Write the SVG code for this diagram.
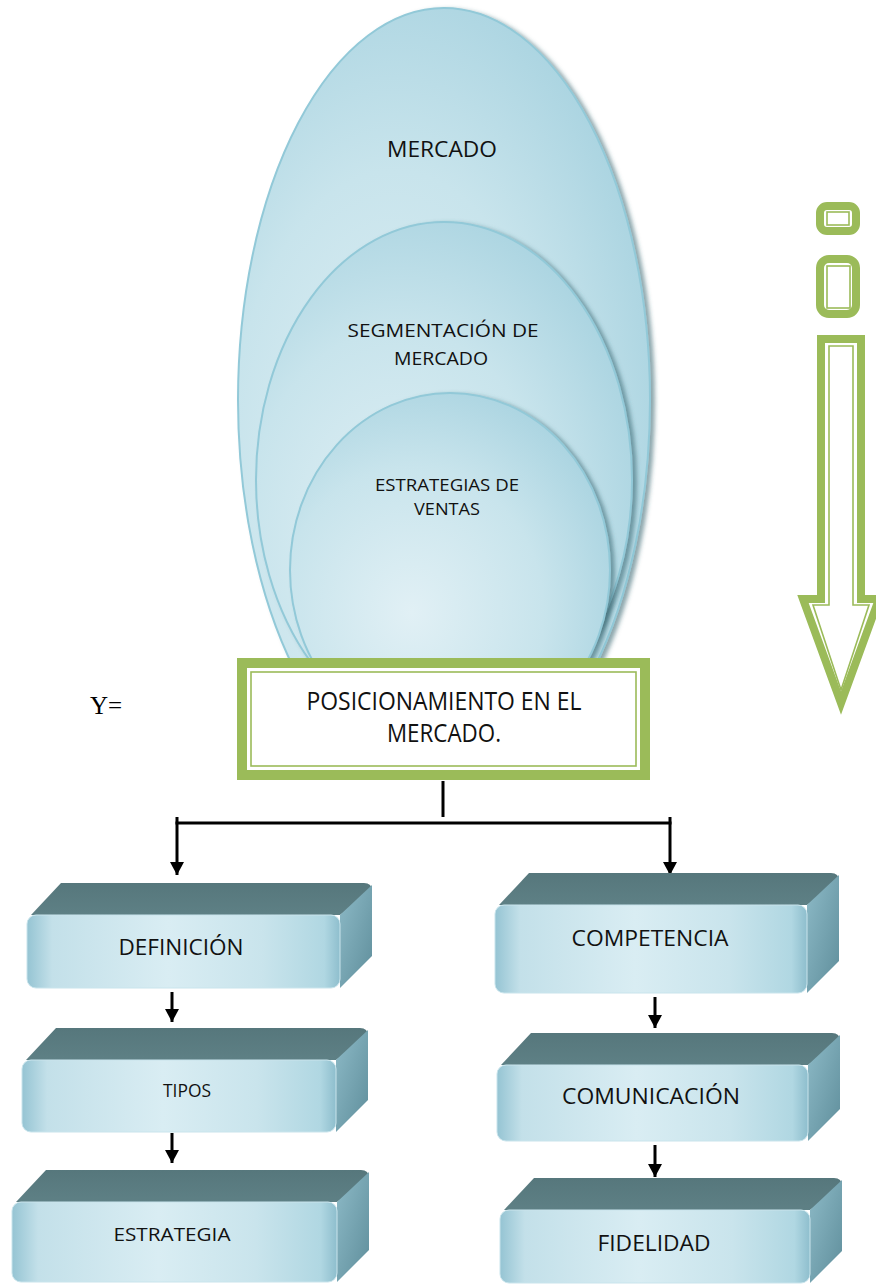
<svg xmlns="http://www.w3.org/2000/svg" width="876" height="1288" viewBox="0 0 876 1288">
  <style>
    .lbl { font-family: "Open Sans", "Noto Sans", "DejaVu Sans", sans-serif; fill: #111; text-anchor: middle; }
    .egg { stroke: #92C9D8; stroke-width: 2; fill: url(#eggGrad); filter: url(#eggShadow); }
    .g-thick { fill: none; stroke: #9BBB59; }
    .g-thin { fill: none; stroke: #9BBB59; stroke-width: 1.6; }
    .topface { fill: url(#topGrad); }
    .sideface { fill: url(#sideGrad); }
    .frontface { fill: url(#frontGrad); stroke: #C9E4EC; stroke-width: 1; }
    .wire { stroke: #000; stroke-width: 3; fill: none; }
    .wire-arrow { stroke: #000; stroke-width: 3; fill: none; marker-end: url(#ah); }
  </style>
  <defs>
    <radialGradient id="eggGrad" cx="0.38" cy="0.62" r="0.75">
      <stop offset="0" stop-color="#E1F0F5"/>
      <stop offset="0.55" stop-color="#C8E4EC"/>
      <stop offset="1" stop-color="#A3D0DE"/>
    </radialGradient>
    <filter id="eggShadow" x="-10%" y="-10%" width="125%" height="125%">
      <feDropShadow dx="4" dy="2" stdDeviation="2" flood-color="#2E5E6B" flood-opacity="0.55"/>
    </filter>
    <clipPath id="eggClip">
      <rect x="0" y="0" width="876" height="664"/>
    </clipPath>
    <linearGradient id="frontGrad" x1="0" y1="0" x2="1" y2="0">
      <stop offset="0" stop-color="#95C4D3"/>
      <stop offset="0.08" stop-color="#C3E0E9"/>
      <stop offset="0.45" stop-color="#D9EDF3"/>
      <stop offset="0.75" stop-color="#C9E4EC"/>
      <stop offset="0.95" stop-color="#B0D7E2"/>
      <stop offset="1" stop-color="#8EBECD"/>
    </linearGradient>
    <linearGradient id="topGrad" x1="0" y1="0" x2="0" y2="1">
      <stop offset="0" stop-color="#56777C"/>
      <stop offset="1" stop-color="#5E8085"/>
    </linearGradient>
    <linearGradient id="sideGrad" x1="0" y1="0" x2="1" y2="1">
      <stop offset="0" stop-color="#8DBAC7"/>
      <stop offset="1" stop-color="#5F8E9B"/>
    </linearGradient>
    <marker id="ah" markerUnits="userSpaceOnUse" markerWidth="13" markerHeight="14" refX="13" refY="7" orient="auto">
      <path d="M0,0 L13,7 L0,14 Z" fill="#000"/>
    </marker>
  </defs>

  <!-- nested market ellipses -->
  <g id="ellipses" clip-path="url(#eggClip)">
    <g id="mercado">
      <ellipse class="egg" cx="444" cy="400" rx="206" ry="392"/>
      <text class="lbl" x="442" y="157" font-size="22" textLength="110" lengthAdjust="spacingAndGlyphs">MERCADO</text>
    </g>
    <g id="segmentacion">
      <ellipse class="egg" cx="444" cy="480" rx="188" ry="258"/>
      <text class="lbl" x="443" y="337" font-size="19" textLength="191" lengthAdjust="spacingAndGlyphs">SEGMENTACIÓN DE</text>
      <text class="lbl" x="441" y="365" font-size="19" textLength="94" lengthAdjust="spacingAndGlyphs">MERCADO</text>
    </g>
    <g id="estrategias-ventas">
      <ellipse class="egg" cx="450" cy="570" rx="160" ry="177"/>
      <text class="lbl" x="447" y="491" font-size="16" textLength="144" lengthAdjust="spacingAndGlyphs">ESTRATEGIAS DE</text>
      <text class="lbl" x="447" y="515" font-size="16" textLength="66" lengthAdjust="spacingAndGlyphs">VENTAS</text>
    </g>
  </g>

  <!-- Y= label -->
  <text id="y-label" x="90" y="714" font-family="Liberation Serif, serif" font-size="25" fill="#000">Y=</text>

  <!-- positioning box -->
  <g id="posicionamiento">
    <rect x="242" y="663" width="403" height="112" fill="#fff" class="g-thick" stroke-width="10"/>
    <rect x="251" y="672" width="385" height="94" class="g-thin"/>
    <text class="lbl" x="444" y="710" font-size="25" textLength="275" lengthAdjust="spacingAndGlyphs">POSICIONAMIENTO EN EL</text>
    <text class="lbl" x="444" y="742" font-size="25" textLength="114" lengthAdjust="spacingAndGlyphs">MERCADO.</text>
  </g>

  <!-- downward green arrow on the right -->
  <g id="green-arrow">
    <rect x="820" y="206" width="36" height="25" rx="7" class="g-thick" stroke-width="8"/>
    <rect x="827" y="212" width="22" height="13" class="g-thin"/>
    <rect x="820" y="259" width="36" height="55" rx="9" class="g-thick" stroke-width="8"/>
    <rect x="827" y="266" width="23" height="42" class="g-thin"/>
    <polygon points="821,339 861,339 861,599 879,599 841,703 803,599 821,599" fill="#fff" class="g-thick" stroke-width="8" stroke-linejoin="miter"/>
    <polygon points="829,346 853,346 853,605 869,605 841,690 813,605 829,605" class="g-thin"/>
  </g>

  <!-- connectors -->
  <g id="connectors">
    <line class="wire" x1="443" y1="781" x2="443" y2="817"/>
    <line class="wire" x1="175.5" y1="823" x2="671.5" y2="823"/>
    <line class="wire-arrow" x1="177" y1="817" x2="177" y2="875"/>
    <line class="wire-arrow" x1="670" y1="817" x2="670" y2="875"/>
    <line class="wire-arrow" x1="172" y1="992" x2="172" y2="1022"/>
    <line class="wire-arrow" x1="172" y1="1133" x2="172" y2="1163"/>
    <line class="wire-arrow" x1="655" y1="997" x2="655" y2="1028"/>
    <line class="wire-arrow" x1="655" y1="1145" x2="655" y2="1177"/>
  </g>

  <!-- left column -->
  <g id="definicion" transform="translate(27,883)">
    <path class="topface" d="M4,32 L34,0 H337 Q345,0 345,8 L313,32 Z"/>
    <path class="sideface" d="M313,32 L345,2 V73 L313,105 Z"/>
    <rect class="frontface" x="0" y="32" width="313" height="73" rx="9"/>
    <text class="lbl" x="154" y="72" font-size="21" textLength="125" lengthAdjust="spacingAndGlyphs">DEFINICIÓN</text>
  </g>
  <g id="tipos" transform="translate(22,1028)">
    <path class="topface" d="M4,32 L34,0 H338 Q346,0 346,8 L314,32 Z"/>
    <path class="sideface" d="M314,32 L346,2 V72 L314,104 Z"/>
    <rect class="frontface" x="0" y="32" width="314" height="72" rx="9"/>
    <text class="lbl" x="165" y="69" font-size="19" textLength="48" lengthAdjust="spacingAndGlyphs">TIPOS</text>
  </g>
  <g id="estrategia" transform="translate(12,1170)">
    <path class="topface" d="M4,32 L34,0 H349 Q357,0 357,8 L325,32 Z"/>
    <path class="sideface" d="M325,32 L357,2 V80 L325,112 Z"/>
    <rect class="frontface" x="0" y="32" width="325" height="80" rx="9"/>
    <text class="lbl" x="160" y="71" font-size="19" textLength="117" lengthAdjust="spacingAndGlyphs">ESTRATEGIA</text>
  </g>

  <!-- right column -->
  <g id="competencia" transform="translate(495,873)">
    <path class="topface" d="M4,32 L34,0 H336 Q344,0 344,8 L312,32 Z"/>
    <path class="sideface" d="M312,32 L344,2 V88 L312,120 Z"/>
    <rect class="frontface" x="0" y="32" width="312" height="88" rx="9"/>
    <text class="lbl" x="155" y="73" font-size="22" textLength="157" lengthAdjust="spacingAndGlyphs">COMPETENCIA</text>
  </g>
  <g id="comunicacion" transform="translate(497,1033)">
    <path class="topface" d="M4,32 L34,0 H335 Q343,0 343,8 L311,32 Z"/>
    <path class="sideface" d="M311,32 L343,2 V76 L311,108 Z"/>
    <rect class="frontface" x="0" y="32" width="311" height="76" rx="9"/>
    <text class="lbl" x="154" y="71" font-size="21" textLength="178" lengthAdjust="spacingAndGlyphs">COMUNICACIÓN</text>
  </g>
  <g id="fidelidad" transform="translate(500,1178)">
    <path class="topface" d="M4,32 L34,0 H334 Q342,0 342,8 L310,32 Z"/>
    <path class="sideface" d="M310,32 L342,2 V73 L310,105 Z"/>
    <rect class="frontface" x="0" y="32" width="310" height="73" rx="9"/>
    <text class="lbl" x="154" y="73" font-size="21" textLength="113" lengthAdjust="spacingAndGlyphs">FIDELIDAD</text>
  </g>
</svg>
